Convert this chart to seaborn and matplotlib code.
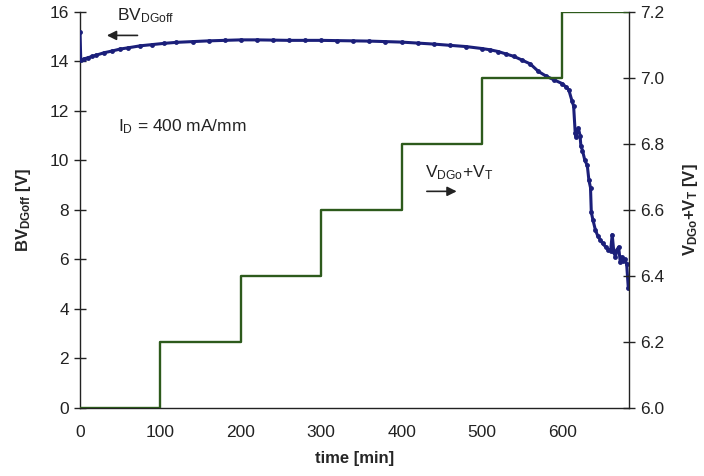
import matplotlib
matplotlib.use("Agg")
import matplotlib.pyplot as plt
import seaborn as sns
import pandas as pd

# ---- data ----
time_bv = [0, 1, 5, 10, 15, 20, 30, 40, 50, 60, 75, 90, 105, 120, 140, 160, 180, 200,
           220, 240, 260, 280, 300, 320, 340, 360, 380, 400, 420, 440, 460, 480, 500,
           510, 520, 530, 540, 550, 560, 570, 580, 590, 600, 605, 608, 612, 614, 616,
           617, 618, 620, 622, 623, 625, 628, 631, 633, 635, 636, 638, 641, 644, 647,
           650, 654, 657, 660, 662, 664, 666, 668, 670, 672, 674, 676, 678, 680, 682]
bv = [15.2, 14.05, 14.1, 14.15, 14.2, 14.25, 14.35, 14.42, 14.5, 14.55, 14.63, 14.68,
      14.73, 14.77, 14.8, 14.83, 14.85, 14.87, 14.87, 14.86, 14.85, 14.85, 14.85, 14.84,
      14.83, 14.82, 14.8, 14.78, 14.74, 14.7, 14.65, 14.6, 14.52, 14.47, 14.4, 14.3,
      14.2, 14.05, 13.9, 13.6, 13.4, 13.25, 13.1, 12.95, 12.85, 12.4, 12.2, 11.1, 10.95,
      11.2, 11.3, 11.0, 10.6, 10.4, 10.0, 9.8, 9.2, 8.9, 7.9, 7.6, 7.2, 6.95, 6.8, 6.65,
      6.5, 6.4, 6.35, 7.0, 6.3, 6.1, 6.4, 6.5, 5.9, 6.1, 5.95, 6.0, 5.8, 4.85]

time_step = [0, 100, 200, 300, 400, 500, 600, 683]
v_step = [6.0, 6.2, 6.4, 6.6, 6.8, 7.0, 7.2, 7.2]

x_ticks = [0, 100, 200, 300, 400, 500, 600]
y_ticks_left = [0, 2, 4, 6, 8, 10, 12, 14, 16]
y_ticks_right = [6.0, 6.2, 6.4, 6.6, 6.8, 7.0, 7.2]

sns.set_theme(style="white")
plt.rcParams["font.family"] = ["Liberation Sans", "DejaVu Sans"]
plt.rcParams["mathtext.fontset"] = "custom"
plt.rcParams["mathtext.rm"] = "Liberation Sans"
plt.rcParams["mathtext.bf"] = "Liberation Sans:bold"
plt.rcParams["mathtext.default"] = "regular"

navy = "#1b1f7a"
green = "#2d5a1c"
black = "#222222"

fig = plt.figure(figsize=(7.04, 4.76), dpi=100)
ax = fig.add_axes([0.1136, 0.143, 0.78, 0.832])

df_bv = pd.DataFrame({"time": time_bv, "bv": bv})
df_st = pd.DataFrame({"time": time_step, "v": v_step})

sns.lineplot(data=df_bv, x="time", y="bv", ax=ax, color=navy, lw=2.2,
             marker="o", markersize=3.5, markeredgewidth=0, zorder=3)
ax.set_xlim(0, 683)
ax.set_ylim(0, 16)
ax.set_xticks(x_ticks)
ax.set_yticks(y_ticks_left)
ax.set_xlabel("time [min]", fontsize=12, fontweight="bold", labelpad=8)
ax.set_ylabel(r"$\mathbf{BV_{DGoff}}$ [V]", fontsize=12, fontweight="bold", labelpad=12)
ax.tick_params(axis="both", direction="inout", length=8, width=1, colors=black,
               labelsize=12.5, labelcolor=black)
ax.tick_params(axis="x", pad=8)
ax.tick_params(axis="y", pad=4)
for s in ["left", "bottom"]:
    ax.spines[s].set_color(black)
    ax.spines[s].set_linewidth(1)
ax.spines["top"].set_visible(False)
ax.spines["right"].set_visible(False)

ax2 = ax.twinx()
sns.lineplot(data=df_st, x="time", y="v", ax=ax2, color=green, lw=1.7,
             drawstyle="steps-post")
ax2.set_ylim(6.0, 7.2)
ax2.set_yticks(y_ticks_right)
ax2.set_yticklabels([f"{v:.1f}" for v in y_ticks_right])
ax2.set_xlim(0, 683)
ax2.set_ylabel(r"$\mathbf{V_{DGo}}$+$\mathbf{V_T}$ [V]", fontsize=12, fontweight="bold",
               rotation=90, labelpad=12)
ax2.tick_params(axis="y", direction="inout", length=8, width=1, colors=black,
                labelsize=12.5, labelcolor=black, pad=4)
ax2.spines["top"].set_visible(False)
ax2.spines["left"].set_visible(False)
ax2.spines["bottom"].set_visible(False)
ax2.spines["right"].set_color(black)
ax2.spines["right"].set_linewidth(1)

# annotations (in BV-axis data coords)
ax.text(46, 15.85, r"BV$_{DGoff}$", fontsize=12.5, color=black, va="center")
ax.annotate("", xy=(30, 15.05), xytext=(75, 15.05),
            arrowprops=dict(arrowstyle="-|>", color=black, lw=1.2, mutation_scale=14))
ax.text(47, 11.35, r"I$_D$ = 400 mA/mm", fontsize=12.5, color=black, va="center")
ax.text(429, 9.5, r"V$_{DGo}$+V$_T$", fontsize=12.5, color=black, va="center")
ax.annotate("", xy=(472, 8.75), xytext=(428, 8.75),
            arrowprops=dict(arrowstyle="-|>", color=black, lw=1.2, mutation_scale=14))

fig.savefig("out.png", dpi=100)
